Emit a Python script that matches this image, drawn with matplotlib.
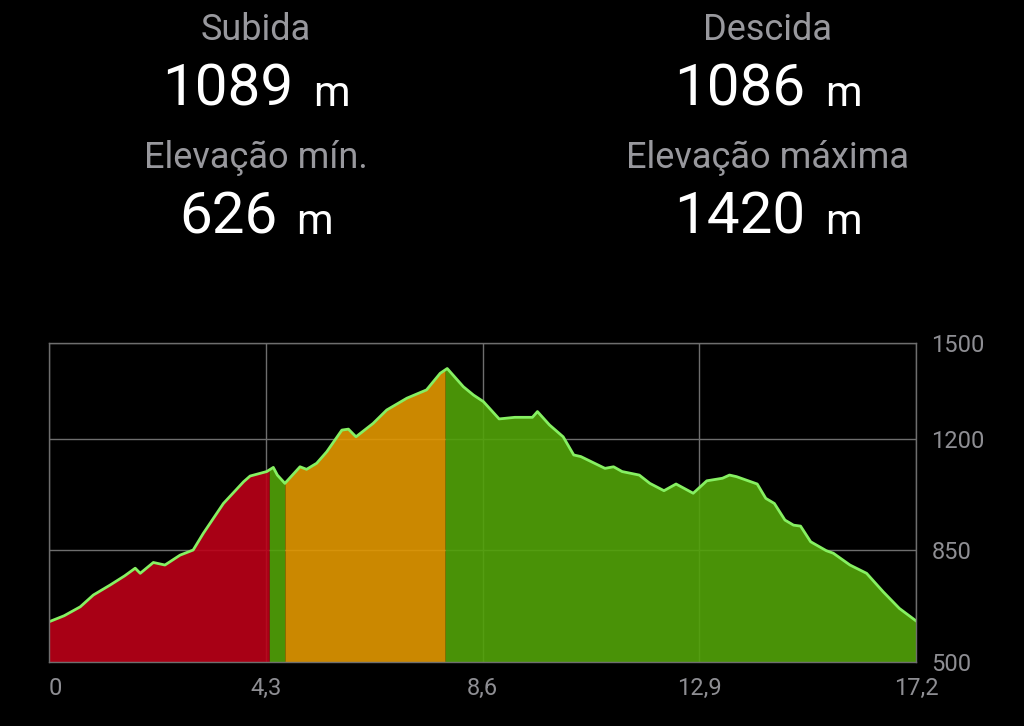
import numpy as np
import matplotlib
matplotlib.use("Agg")
import matplotlib.pyplot as plt
from matplotlib.offsetbox import TextArea, HPacker, AnnotationBbox

# summary figures shown above the profile
stat_labels = ["Subida", "Descida", "Elevação mín.", "Elevação máxima"]
stat_values = ["1089", "1086", "626", "1420"]
stat_unit = "m"

# elevation profile (km, m)
dist_km = [0.00, 0.30, 0.62, 0.88, 1.21, 1.50, 1.71, 1.81, 2.07, 2.30, 2.60, 2.86,
           3.06, 3.46, 3.86, 3.99, 4.32, 4.45, 4.53, 4.68, 4.98, 5.11, 5.31, 5.51,
           5.81, 5.94, 6.09, 6.43, 6.70, 7.10, 7.49, 7.76, 7.90, 8.22, 8.42, 8.62,
           8.93, 9.24, 9.59, 9.69, 9.93, 10.20, 10.41, 10.55, 11.03, 11.20, 11.37,
           11.71, 11.92, 12.20, 12.44, 12.78, 13.05, 13.36, 13.50, 13.64, 14.05,
           14.22, 14.39, 14.60, 14.77, 14.91, 15.11, 15.42, 15.56, 15.89, 16.22,
           16.55, 16.87, 17.20]
elev_m = [626, 645, 673, 710, 741, 770, 794, 778, 812, 804, 835, 851,
          903, 997, 1065, 1083, 1097, 1110, 1086, 1060, 1112, 1104, 1123, 1159,
          1227, 1230, 1206, 1248, 1290, 1327, 1353, 1405, 1420, 1363, 1337, 1316,
          1262, 1267, 1267, 1285, 1243, 1206, 1149, 1144, 1107, 1112, 1097,
          1086, 1060, 1037, 1058, 1029, 1068, 1076, 1086, 1081, 1058,
          1013, 997, 945, 929, 926, 877, 849, 841, 804, 778,
          720, 668, 629]

# coloured stretches of the profile (km boundaries)
seg_bounds = [0.0, 4.37, 4.68, 7.86, 17.2]
seg_colors = ["#bc0018", "#52a308", "#e29800", "#52a308"]

x_ticks = [0, 4.3, 8.6, 12.9, 17.2]
x_tick_labels = ["0", "4,3", "8,6", "12,9", "17,2"]
y_ticks = [500, 850, 1200, 1500]

plt.rcParams['font.family'] = ['Roboto', 'DejaVu Sans']

fig = plt.figure(figsize=(10.24, 7.26), dpi=100, facecolor="black")
W, H = 1024, 726
ax = fig.add_axes([49 / W, (H - 662) / H, (916 - 49) / W, (662 - 343) / H])
ax.set_facecolor("black")

x = np.array(dist_km)
y = np.array(elev_m)

# fill each stretch, with its ends interpolated on the profile
for (a, b), c in zip(zip(seg_bounds[:-1], seg_bounds[1:]), seg_colors):
    xs = np.concatenate(([a], x[(x > a) & (x < b)], [b]))
    ys = np.interp(xs, x, y)
    ax.fill_between(xs, 500, ys, color=c, alpha=0.9, lw=0, zorder=2)

ax.plot(x, y, color="#86f062", lw=2.0, zorder=3)

ax.set_xlim(0, 17.2)
ax.set_ylim(500, 1500)
ax.set_xticks(x_ticks)
ax.set_xticklabels(x_tick_labels)
ax.set_yticks(y_ticks)
ax.yaxis.tick_right()
ax.tick_params(length=0, labelcolor="#8e8e93", labelsize=17)
ax.tick_params(axis="x", pad=11)
ax.tick_params(axis="y", pad=11)
ax.get_xticklabels()[0].set_ha("left")
ax.grid(True, color="#6e6e6e", lw=1, zorder=0)
ax.set_axisbelow(True)
for s in ax.spines.values():
    s.set_color("#6e6e6e")
    s.set_linewidth(1)
    s.set_zorder(4)

# header with the four figures
col_x = [256 / W, 768 / W, 256 / W, 768 / W]
label_y = [30, 30, 158, 158]
value_y = [118, 118, 246, 246]
for lab, val, cx, ly, vy in zip(stat_labels, stat_values, col_x, label_y, value_y):
    fig.text(cx, 1 - ly / H, lab, color="#98989d", fontsize=26,
             ha="center", va="center")
    num = TextArea(val, textprops=dict(color="white", fontsize=42))
    unit = TextArea(stat_unit, textprops=dict(color="white", fontsize=30))
    box = HPacker(children=[num, unit], align="baseline", pad=0, sep=14)
    ab = AnnotationBbox(box, (cx, 1 - vy / H), xycoords="figure fraction",
                        frameon=False, box_alignment=(0.5, 0.0), pad=0)
    fig.add_artist(ab)

fig.savefig("out.png", dpi=100, facecolor="black")
